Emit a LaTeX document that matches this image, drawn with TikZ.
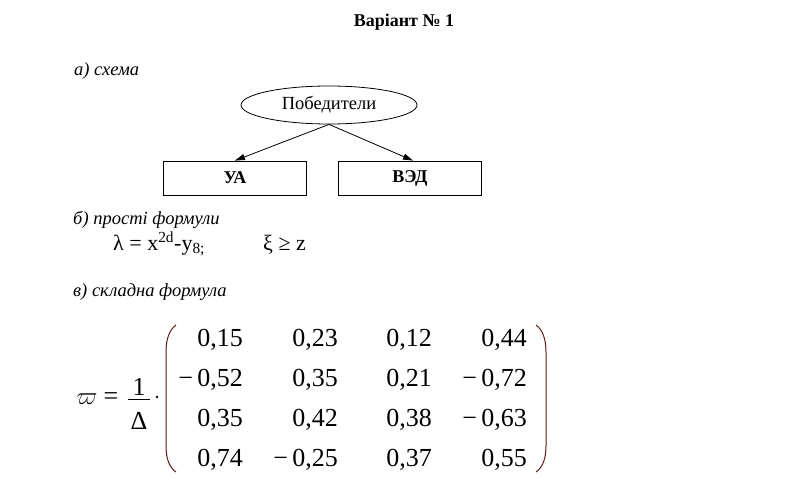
\documentclass[tikz,border=0pt]{standalone}
\usepackage{fontspec}
\setmainfont{Liberation Serif}
\usetikzlibrary{shapes.geometric,arrows.meta,calc}
\definecolor{parcol}{RGB}{95,25,22}
\begin{document}
\begin{tikzpicture}[x=1pt,y=-1pt,
  lbl/.style={font=\fontsize{18.5}{20}\selectfont\itshape, anchor=base west, inner sep=0},
  bx/.style={draw, line width=0.8pt, minimum width=143pt, minimum height=34pt, font=\fontsize{18}{20}\selectfont\bfseries, inner sep=0},
  num/.style={font=\fontsize{26}{28}\selectfont, anchor=base east, inner sep=0},
  big/.style={font=\fontsize{26}{28}\selectfont, anchor=base, inner sep=0},
  frm/.style={font=\fontsize{22}{24}\selectfont, anchor=base west, inner sep=0},
  arr/.style={-{Triangle[length=10pt,width=6pt]}, line width=0.8pt},
  paren/.style={line width=1pt, draw=parcol}]
\useasboundingbox (0,0) rectangle (792,497);
% title
\node[font=\fontsize{18}{20}\selectfont\bfseries, anchor=base, inner sep=0] (title) at (404,27) {Варіант № 1};
% a) scheme
\node[lbl] (la) at (74,76) {а) схема};
\node[draw, ellipse, line width=0.8pt, minimum width=176pt, minimum height=38pt, inner sep=0, font=\fontsize{18.5}{20}\selectfont] (pob) at (329,105) {Победители};
\node[bx] (ua) at (235,178) {УА};
\node[bx] (ved) at (410,178) {ВЭД};
\draw[arr] (pob.south) -- (ua.north);
\draw[arr] (pob.south) -- ($(ved.north)+(3,0)$);
% b) simple formulas
\node[lbl] (lb) at (73,225) {б) прості формули};
\node[frm] (f1) at (113,250) {λ = x\textsuperscript{2d}-y\textsubscript{8;}};
\node[frm] (f2) at (263,250) {ξ ≥ z};
% c) complex formula
\node[lbl] (lc) at (73,296) {в) складна формула};
\node[big] (w) at (87,404) {$\varpi$};
\node[big] (eq) at (111,404) {=};
\node[big] (one) at (139,395) {1};
\node[big] (del) at (139,429) {Δ};
\draw[line width=0.8pt] (128,399) -- (150,399);
\fill (157,397) circle (1.3);
\draw[paren] (176,325) .. controls (169,330) and (166,340) .. (166,352) -- (166,446) .. controls (166,458) and (169,467) .. (176,472);
\draw[paren] (536,325) .. controls (543,330) and (546,340) .. (546,352) -- (546,446) .. controls (546,458) and (543,467) .. (536,472);
% matrix
\node[num] (m11) at (243,346) {0,15};
\node[num] (m12) at (338,346) {0,23};
\node[num] (m13) at (432,346) {0,12};
\node[num] (m14) at (527,346) {0,44};
\node[num] (m21) at (243,386) {−\,0,52};
\node[num] (m22) at (338,386) {0,35};
\node[num] (m23) at (432,386) {0,21};
\node[num] (m24) at (527,386) {−\,0,72};
\node[num] (m31) at (243,426) {0,35};
\node[num] (m32) at (338,426) {0,42};
\node[num] (m33) at (432,426) {0,38};
\node[num] (m34) at (527,426) {−\,0,63};
\node[num] (m41) at (243,466) {0,74};
\node[num] (m42) at (338,466) {−\,0,25};
\node[num] (m43) at (432,466) {0,37};
\node[num] (m44) at (527,466) {0,55};
\end{tikzpicture}
\end{document}
